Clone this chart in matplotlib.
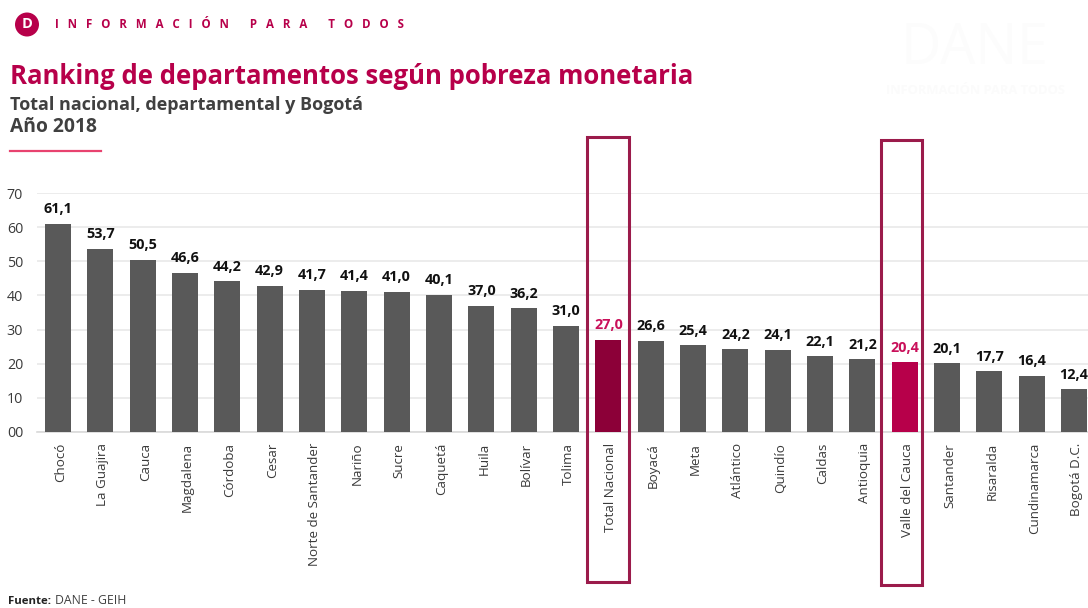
import matplotlib
matplotlib.use("Agg")
import matplotlib.pyplot as plt
from matplotlib.patches import Rectangle, Ellipse
from matplotlib.transforms import ScaledTranslation

plt.rcParams['font.family'] = ['Open Sans', 'DejaVu Sans']

departments = ["Chocó", "La Guajira", "Cauca", "Magdalena", "Córdoba", "Cesar",
               "Norte de Santander", "Nariño", "Sucre", "Caquetá", "Huila", "Bolívar",
               "Tolima", "Total Nacional", "Boyacá", "Meta", "Atlántico", "Quindío",
               "Caldas", "Antioquia", "Valle del Cauca", "Santander", "Risaralda",
               "Cundinamarca", "Bogotá D.C."]
poverty = [61.1, 53.7, 50.5, 46.6, 44.2, 42.9, 41.7, 41.4, 41.0, 40.1, 37.0, 36.2,
           31.0, 27.0, 26.6, 25.4, 24.2, 24.1, 22.1, 21.2, 20.4, 20.1, 17.7, 16.4, 12.4]
y_ticks = [0, 10, 20, 30, 40, 50, 60, 70]
y_tick_labels = ["00", "10", "20", "30", "40", "50", "60", "70"]

GREY = "#595959"
DARK = "#8C0038"
PINK = "#B7004A"
FRAME = "#9B1B4B"
W, H = 1088, 608

fig = plt.figure(figsize=(W / 100, H / 100), dpi=100, facecolor="white")

def px_rect(l, t, r, b):
    return (l / W, 1 - b / H, (r - l) / W, (b - t) / H)

ax = fig.add_axes(px_rect(37, 193.3, 1088, 431.7))
colors = [GREY] * len(poverty)
colors[13] = DARK
colors[20] = PINK
xs = list(range(len(poverty)))
ax.bar(xs, poverty, width=0.62, color=colors, zorder=3)
ax.set_xlim(-0.496, 24.33)
ax.set_ylim(0, 70)
ax.set_yticks(y_ticks, y_tick_labels, fontsize=10.3, color="#3A3A3A")
ax.set_xticks(xs, departments, rotation=90, fontsize=9.6, color="#3A3A3A")
ax.tick_params(axis="both", length=0)
ax.tick_params(axis="x", pad=8)
ax.tick_params(axis="y", pad=10)
shift = ScaledTranslation(2.5 / 100, 0, fig.dpi_scale_trans)
for lab in ax.get_xticklabels():
    lab.set_transform(lab.get_transform() + shift)
ax.grid(axis="y", color="#E9E9E9", lw=1.2, zorder=0)
ax.set_axisbelow(True)
for s in ["top", "right", "left"]:
    ax.spines[s].set_visible(False)
ax.spines["bottom"].set_color("#D9D9D9")
ax.spines["bottom"].set_linewidth(1.2)

for i, v in enumerate(poverty):
    c = "#C9105A" if i == 13 or i == 20 else "#111111"
    ax.annotate(f"{v:.1f}".replace(".", ","), (i, v), xytext=(0, 5.5),
                textcoords="offset points", ha="center", va="bottom",
                fontsize=10.4, fontweight="bold", color=c, zorder=5)

for l, t, r, b in [(587, 137, 629, 582), (880.5, 140, 921.5, 585)]:
    fig.add_artist(Rectangle((l / W, 1 - b / H), (r - l) / W, (b - t) / H,
                             transform=fig.transFigure, fill=False,
                             edgecolor=FRAME, lw=2.2, zorder=10))

# faint watermark
fig.text(975 / W, 1 - 49 / H, "DANE", color="#FCFCFC", fontsize=40, ha="center", va="center")
fig.text(975 / W, 1 - 90 / H, "INFORMACIÓN PARA TODOS", color="#FBFBFB", fontsize=9.3,
         fontweight="bold", ha="center", va="center")

# header
fig.add_artist(Ellipse((27 / W, 1 - 24.5 / H), 24 / W, 24 / H, transform=fig.transFigure,
                       color=PINK, ec="none"))
fig.text(27 / W, 1 - 24.5 / H, "D", color="white", fontsize=10.5, fontweight="bold",
         ha="center", va="center")
fig.text(55 / W, 1 - 24 / H,
         "I   N   F   O   R   M   A   C   I   Ó   N       P   A   R   A       T   O   D   O   S",
         color=PINK, fontsize=8.3, fontweight="bold", ha="left", va="center")
fig.text(10 / W, 1 - 76 / H, "Ranking de departamentos según pobreza monetaria",
         color=PINK, fontsize=18.5, fontweight="bold", ha="left", va="center")
fig.text(10 / W, 1 - 105 / H, "Total nacional, departamental y Bogotá",
         color="#404040", fontsize=12.95, fontweight="bold", ha="left", va="center")
fig.text(10 / W, 1 - 127 / H, "Año 2018",
         color="#404040", fontsize=13.9, fontweight="bold", ha="left", va="center")
fig.add_artist(plt.Line2D([10 / W, 101 / W], [1 - 150.5 / H] * 2,
                          transform=fig.transFigure, color="#E8436F", lw=1.6))
fig.text(8 / W, 1 - 601 / H, "Fuente:", color="#222222", fontsize=8.2,
         fontweight="bold", ha="left", va="center")
fig.text(55 / W, 1 - 601 / H, "DANE - GEIH", color="#404040", fontsize=8.8,
         ha="left", va="center")

fig.savefig("out.png", dpi=100, facecolor="white")
